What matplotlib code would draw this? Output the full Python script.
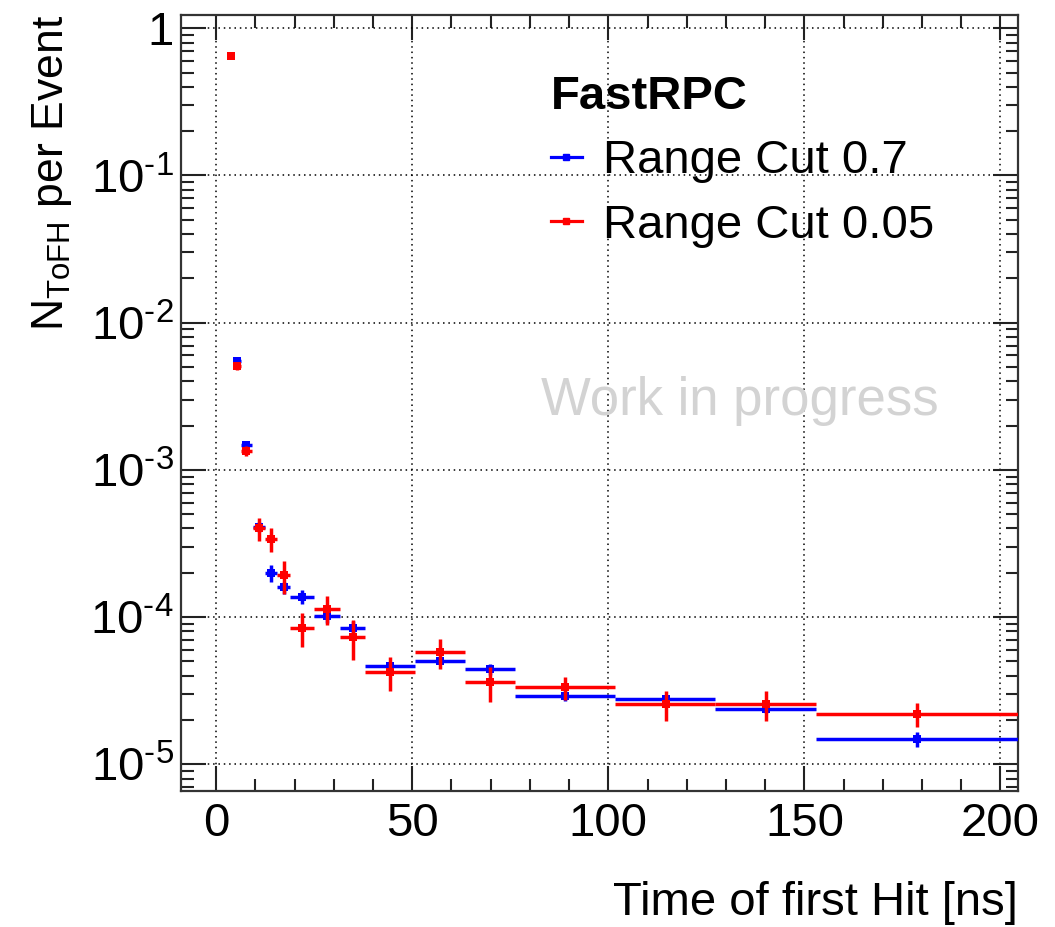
import matplotlib
matplotlib.use("Agg")
import matplotlib.pyplot as plt
import numpy as np
from matplotlib.lines import Line2D
from matplotlib.ticker import FixedLocator, FixedFormatter, MultipleLocator, LogLocator, NullFormatter

plt.rcParams['font.family'] = ['Liberation Sans', 'DejaVu Sans']
plt.rcParams['mathtext.fontset'] = 'custom'
plt.rcParams['mathtext.rm'] = 'Liberation Sans'
plt.rcParams['mathtext.it'] = 'Liberation Sans:italic'
plt.rcParams['mathtext.bf'] = 'Liberation Sans:bold'

# ---- data (time of first hit, bins in ns) ----
bin_lo = [3.2, 4.3, 6.3, 9.3, 12.4, 15.6, 18.9, 25.0, 31.7, 38.0, 50.8, 63.5, 76.2, 101.7, 127.3, 152.9]
bin_hi = [4.2, 6.3, 9.1, 12.4, 15.6, 18.9, 25.0, 31.7, 38.0, 50.8, 63.5, 76.2, 101.7, 127.3, 152.9, 204.4]
bin_center = [3.7, 5.35, 7.6, 10.8, 14.0, 17.3, 21.9, 28.3, 34.8, 44.4, 57.2, 69.9, 89.0, 114.6, 140.1, 178.6]

cut07_val = [0.65, 5.5e-3, 1.47e-3, 4.1e-4, 2.0e-4, 1.59e-4, 1.38e-4, 1.01e-4, 8.5e-5,
             4.67e-5, 5.04e-5, 4.42e-5, 2.92e-5, 2.77e-5, 2.37e-5, 1.49e-5]
cut07_err = [0.002, 0.15e-3, 0.05e-3, 0.3e-4, 0.27e-4, 0.15e-4, 0.16e-4, 0.1e-4, 0.85e-5,
             0.3e-5, 0.25e-5, 0.4e-5, 0.22e-5, 0.2e-5, 0.15e-5, 0.18e-5]

cut005_val = [0.65, 5.08e-3, 1.35e-3, 4.0e-4, 3.39e-4, 1.93e-4, 8.5e-5, 1.14e-4, 7.3e-5,
              4.24e-5, 5.77e-5, 3.62e-5, 3.33e-5, 2.57e-5, 2.56e-5, 2.19e-5]
cut005_err = [0.003, 0.3e-3, 0.1e-3, 0.7e-4, 0.63e-4, 0.49e-4, 2.2e-5, 2.6e-5, 2.2e-5,
              1.1e-5, 1.3e-5, 0.95e-5, 0.6e-5, 0.6e-5, 0.6e-5, 0.4e-5]

series_labels = ["Range Cut 0.7", "Range Cut 0.05"]
series_colors = ["#0000ff", "#ff0000"]

x_ticks = [0, 50, 100, 150, 200]
y_ticks = [1e-5, 1e-4, 1e-3, 1e-2, 1e-1, 1]
y_ticklabels = [r'$\mathregular{10^{\text{-}5}}$', r'$\mathregular{10^{\text{-}4}}$',
                r'$\mathregular{10^{\text{-}3}}$', r'$\mathregular{10^{\text{-}2}}$',
                r'$\mathregular{10^{\text{-}1}}$', '1']

# ---- figure ----
W, H = 1055, 927
fig = plt.figure(figsize=(W / 100, H / 100), dpi=100)
ax = fig.add_axes([180.5 / W, 1 - 791 / H, (1017.7 - 180.5) / W, (791 - 15) / H])

xc = np.array(bin_center)
xerr = [xc - np.array(bin_lo), np.array(bin_hi) - xc]
for vals, errs, col, z in [(cut07_val, cut07_err, series_colors[0], 3),
                           (cut005_val, cut005_err, series_colors[1], 4)]:
    ax.errorbar(xc, vals, yerr=errs, xerr=xerr, fmt='s', color=col, ecolor=col,
                markersize=5.5, elinewidth=2.5, capsize=0, zorder=z, markeredgewidth=0)

ax.set_yscale('log')
ax.set_xlim(-9.1, 204.4)
ax.set_ylim(6.59e-6, 1.231)

ax.xaxis.set_major_locator(FixedLocator(x_ticks))
ax.xaxis.set_minor_locator(MultipleLocator(10))
ax.yaxis.set_major_locator(FixedLocator(y_ticks))
ax.yaxis.set_major_formatter(FixedFormatter(y_ticklabels))
ax.yaxis.set_minor_locator(LogLocator(base=10, subs=np.arange(2, 10)))
ax.yaxis.set_minor_formatter(NullFormatter())

ax.tick_params(which='both', direction='in', top=True, right=True, color='#222222', width=1.5)
ax.tick_params(which='major', length=18, labelsize=34)
ax.tick_params(which='minor', length=9)
ax.tick_params(axis='x', which='major', pad=8)
ax.tick_params(axis='y', which='major', pad=5)
for s in ax.spines.values():
    s.set_linewidth(1.6)
    s.set_color('#333333')

ax.grid(True, which='major', color='black', linestyle=(0, (1, 2.5)), linewidth=1.1)

ax.set_xlabel('Time of first Hit [ns]', fontsize=34, loc='right')
ax.xaxis.set_label_coords(1.0, -0.116)
ax.set_ylabel(r'$\mathregular{N_{ToFH}}$ per Event', fontsize=32, loc='top')
ax.yaxis.set_label_coords(-0.127, 1.0)

ax.text(0.668, 0.503, 'Work in progress', transform=ax.transAxes, fontsize=38,
        color='#d3d3d3', ha='center', va='center')

handles = [Line2D([], [], color=c, marker='s', markersize=4, lw=2.3) for c in series_colors]
leg = ax.legend(handles, series_labels, title='FastRPC', loc='upper left',
                bbox_to_anchor=((551 - 180.5) / 837.2, (791 - 75) / 776.0),
                frameon=False, fontsize=34, alignment='left',
                title_fontproperties={'weight': 'bold', 'size': 34},
                handlelength=0.65, handletextpad=0.45, labelspacing=0.43,
                borderpad=0, borderaxespad=0)

fig.savefig('out.png', dpi=100)
